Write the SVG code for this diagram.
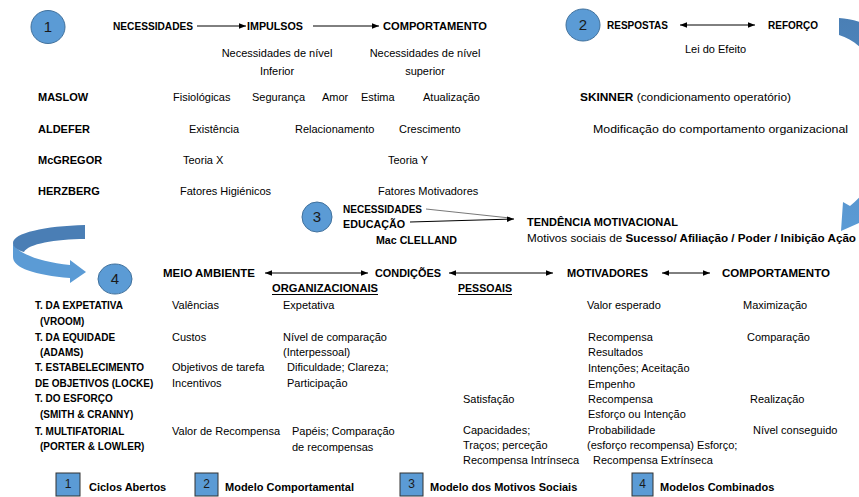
<svg xmlns="http://www.w3.org/2000/svg" width="859" height="497" viewBox="0 0 859 497">
<style>
text{font-family:"Liberation Sans",Arial,sans-serif;fill:#000}
.t{font-size:11px}
.b{font-size:11px;font-weight:bold}
.tb{font-size:10px;font-weight:bold}
.n{font-size:15px;fill:#1a1a1a}
.ln{font-size:12px;fill:#1a1a1a}
.c{fill:#5B9BD5;stroke:#41719C;stroke-width:1}
.bx{fill:#5B9BD5;stroke:#333;stroke-width:1}
.a{stroke:#000;stroke-width:1;fill:none}
.u{stroke:#000;stroke-width:1.2}
</style>
<defs>
<marker id="ah" viewBox="0 0 10 10" refX="10" refY="5" markerWidth="7" markerHeight="7" markerUnits="userSpaceOnUse" orient="auto-start-reverse"><path d="M0,1 L10,5 L0,9 Z" fill="#000"/></marker>
<linearGradient id="gr" x1="0" y1="0" x2="0" y2="1"><stop offset="0" stop-color="#4A7FB5"/><stop offset="1" stop-color="#5B9BD5"/></linearGradient>
</defs>

<g id="connectors">
<line class="a" x1="197" y1="26" x2="246" y2="26" marker-end="url(#ah)"/>
<line class="a" x1="313" y1="26" x2="379" y2="26" marker-end="url(#ah)"/>
<line class="a" x1="680" y1="25" x2="755" y2="25" marker-start="url(#ah)" marker-end="url(#ah)"/>
<line x1="426" y1="209" x2="510" y2="218" stroke="#555" stroke-width="0.8"/>
<line class="a" x1="410" y1="222" x2="514" y2="219" marker-end="url(#ah)"/>
<line class="a" x1="265" y1="273" x2="368" y2="273" marker-start="url(#ah)" marker-end="url(#ah)"/>
<line class="a" x1="449" y1="273" x2="553" y2="273" marker-start="url(#ah)" marker-end="url(#ah)"/>
<line class="a" x1="662" y1="273" x2="710" y2="273" marker-start="url(#ah)" marker-end="url(#ah)"/>
<path id="curve-right" d="M839 18 C885 20 940 70 925 140 C915 175 890 200 864 214 L866 220 L841 231 L843 202 L850 206 C875 185 890 160 890 130 C890 80 870 45 839 35 Z" fill="url(#gr)"/>
<g id="curve-left">
<path d="M13 243 C16 253 40 262 70 265 L70 260 L86 272 L70 283 L70 278 C35 275 13 268 13 257 Z" fill="#5B9BD5"/>
<path d="M85 225 L85 239 C55 239 28 244 24 252 C17 250 13 247 13 243 C13 233 45 226 85 225 Z" fill="#4A7EB5"/>
</g>
</g>

<g id="model1">
<ellipse class="c" cx="48" cy="27" rx="17" ry="16.5"/>
<text class="n" x="48" y="32" text-anchor="middle">1</text>
<text class="b" x="113" y="30" textLength="80" lengthAdjust="spacingAndGlyphs">NECESSIDADES</text>
<text class="b" x="247" y="30" textLength="56" lengthAdjust="spacingAndGlyphs">IMPULSOS</text>
<text class="b" x="383" y="30" textLength="104" lengthAdjust="spacingAndGlyphs">COMPORTAMENTO</text>
<text class="t" x="277" y="57" text-anchor="middle">Necessidades de nível</text>
<text class="t" x="277" y="75" text-anchor="middle">Inferior</text>
<text class="t" x="425" y="57" text-anchor="middle">Necessidades de nível</text>
<text class="t" x="425" y="75" text-anchor="middle">superior</text>
</g>

<g id="theories">
<text class="b" x="38" y="101">MASLOW</text>
<text class="t" x="173" y="101">Fisiológicas</text>
<text class="t" x="252" y="101">Segurança</text>
<text class="t" x="322" y="101">Amor</text>
<text class="t" x="361" y="101">Estima</text>
<text class="t" x="423" y="101">Atualização</text>
<text class="b" x="38" y="133">ALDEFER</text>
<text class="t" x="189" y="133">Existência</text>
<text class="t" x="295" y="133">Relacionamento</text>
<text class="t" x="399" y="133">Crescimento</text>
<text class="b" x="38" y="164">McGREGOR</text>
<text class="t" x="183" y="164">Teoria X</text>
<text class="t" x="388" y="164">Teoria Y</text>
<text class="b" x="38" y="195">HERZBERG</text>
<text class="t" x="180" y="195">Fatores Higiénicos</text>
<text class="t" x="378" y="195">Fatores Motivadores</text>
</g>

<g id="model2">
<ellipse class="c" cx="583" cy="25" rx="17" ry="16"/>
<text class="n" x="583" y="30" text-anchor="middle">2</text>
<text class="b" x="607" y="29" textLength="61" lengthAdjust="spacingAndGlyphs">RESPOSTAS</text>
<text class="b" x="768" y="29" textLength="50" lengthAdjust="spacingAndGlyphs">REFORÇO</text>
<text class="t" x="685" y="53">Lei do Efeito</text>
<text class="t" x="580" y="101" textLength="211" lengthAdjust="spacingAndGlyphs"><tspan font-weight="bold">SKINNER</tspan> (condicionamento operatório)</text>
<text class="t" x="593" y="133" textLength="255" lengthAdjust="spacingAndGlyphs">Modificação do comportamento organizacional</text>
</g>

<g id="model3">
<ellipse class="c" cx="317" cy="217" rx="15" ry="15"/>
<text class="n" x="317" y="222" text-anchor="middle">3</text>
<text class="b" x="343" y="213" textLength="79" lengthAdjust="spacingAndGlyphs">NECESSIDADES</text>
<text class="b" x="343" y="228" textLength="62" lengthAdjust="spacingAndGlyphs">EDUCAÇÃO</text>
<text class="b" x="376" y="244" textLength="81" lengthAdjust="spacingAndGlyphs">Mac CLELLAND</text>
<text class="b" x="527" y="226" textLength="151" lengthAdjust="spacingAndGlyphs">TENDÊNCIA MOTIVACIONAL</text>
<text class="t" x="527" y="242" textLength="329" lengthAdjust="spacingAndGlyphs">Motivos sociais de <tspan font-weight="bold">Sucesso/ Afiliação / Poder / Inibição Ação</tspan></text>
</g>

<g id="model4-header">
<ellipse class="c" cx="115" cy="279" rx="17" ry="15"/>
<text class="n" x="115" y="284" text-anchor="middle">4</text>
<text class="b" x="163" y="277" textLength="92" lengthAdjust="spacingAndGlyphs">MEIO AMBIENTE</text>
<text class="b" x="375" y="277" textLength="66" lengthAdjust="spacingAndGlyphs">CONDIÇÕES</text>
<text class="b" x="567" y="277" textLength="81" lengthAdjust="spacingAndGlyphs">MOTIVADORES</text>
<text class="b" x="722" y="277" textLength="108" lengthAdjust="spacingAndGlyphs">COMPORTAMENTO</text>
<text class="b" x="272" y="292" textLength="106" lengthAdjust="spacingAndGlyphs">ORGANIZACIONAIS</text>
<line class="u" x1="272" y1="294.5" x2="378" y2="294.5"/>
<text class="b" x="458" y="292" textLength="54" lengthAdjust="spacingAndGlyphs">PESSOAIS</text>
<line class="u" x1="458" y1="294.5" x2="512" y2="294.5"/>
</g>

<g id="table-labels">
<text class="tb" x="35" y="309">T. DA EXPETATIVA</text>
<text class="tb" x="40" y="325">(VROOM)</text>
<text class="tb" x="35" y="341">T. DA EQUIDADE</text>
<text class="tb" x="40" y="356">(ADAMS)</text>
<text class="tb" x="35" y="371">T. ESTABELECIMENTO</text>
<text class="tb" x="35" y="387">DE OBJETIVOS (LOCKE)</text>
<text class="tb" x="35" y="402">T. DO ESFORÇO</text>
<text class="tb" x="40" y="418">(SMITH &amp; CRANNY)</text>
<text class="tb" x="35" y="435">T. MULTIFATORIAL</text>
<text class="tb" x="40" y="450">(PORTER &amp; LOWLER)</text>
</g>

<g id="table-values">
<text class="t" x="172" y="309">Valências</text>
<text class="t" x="283" y="309">Expetativa</text>
<text class="t" x="587" y="309">Valor esperado</text>
<text class="t" x="743" y="309">Maximização</text>
<text class="t" x="172" y="341">Custos</text>
<text class="t" x="283" y="341">Nível de comparação</text>
<text class="t" x="283" y="356">(Interpessoal)</text>
<text class="t" x="588" y="341">Recompensa</text>
<text class="t" x="747" y="341">Comparação</text>
<text class="t" x="588" y="356">Resultados</text>
<text class="t" x="172" y="371">Objetivos de tarefa</text>
<text class="t" x="287" y="371">Dificuldade; Clareza;</text>
<text class="t" x="588" y="372">Intenções; Aceitação</text>
<text class="t" x="172" y="387">Incentivos</text>
<text class="t" x="287" y="387">Participação</text>
<text class="t" x="588" y="388">Empenho</text>
<text class="t" x="463" y="403">Satisfação</text>
<text class="t" x="588" y="403">Recompensa</text>
<text class="t" x="750" y="403">Realização</text>
<text class="t" x="588" y="418">Esforço ou Intenção</text>
<text class="t" x="172" y="435">Valor de Recompensa</text>
<text class="t" x="292" y="435">Papéis; Comparação</text>
<text class="t" x="292" y="451">de recompensas</text>
<text class="t" x="463" y="434">Capacidades;</text>
<text class="t" x="588" y="434">Probabilidade</text>
<text class="t" x="753" y="434">Nível conseguido</text>
<text class="t" x="463" y="449">Traços; perceção</text>
<text class="t" x="587" y="449">(esforço recompensa) Esforço;</text>
<text class="t" x="463" y="464">Recompensa Intrínseca</text>
<text class="t" x="593" y="464">Recompensa Extrínseca</text>
</g>

<g id="legend">
<rect class="bx" x="56" y="473" width="24" height="23"/>
<text class="ln" x="68" y="488" text-anchor="middle">1</text>
<text class="b" x="89" y="491">Ciclos Abertos</text>
<rect class="bx" x="195" y="473" width="23" height="23"/>
<text class="ln" x="206.5" y="488" text-anchor="middle">2</text>
<text class="b" x="225" y="491">Modelo Comportamental</text>
<rect class="bx" x="400" y="473" width="23" height="23"/>
<text class="ln" x="411.5" y="488" text-anchor="middle">3</text>
<text class="b" x="430" y="491">Modelo dos Motivos Sociais</text>
<rect class="bx" x="632" y="473" width="21" height="23"/>
<text class="ln" x="642.5" y="488" text-anchor="middle">4</text>
<text class="b" x="660" y="491">Modelos Combinados</text>
</g>
</svg>
